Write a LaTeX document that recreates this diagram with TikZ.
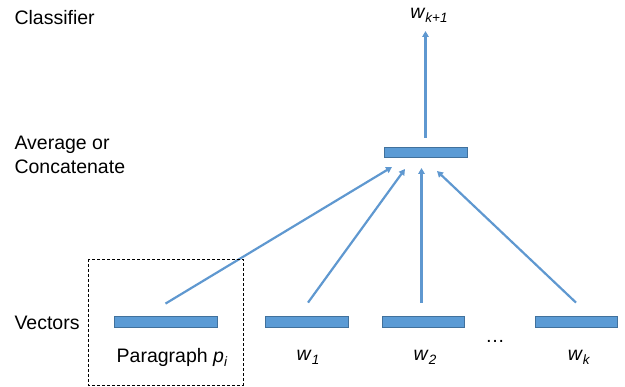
\documentclass[tikz,border=0pt]{standalone}
\usepackage{fontspec}
\setmainfont{Liberation Sans}
\usetikzlibrary{arrows.meta}
\definecolor{barfill}{RGB}{91,155,213}
\definecolor{bardraw}{RGB}{65,113,156}
\definecolor{arrblue}{RGB}{95,152,208}
\newcommand{\wsub}[2]{\textit{#1}\raisebox{-4pt}{\fontsize{13.5}{13.5}\selectfont\textit{#2}}}

\begin{document}
\begin{tikzpicture}[x=1pt,y=-1pt,
  every node/.style={font=\fontsize{19.5}{24}\selectfont},
  bar/.style={draw=bardraw,fill=barfill,line width=0.8pt,inner sep=0pt,
    minimum width=103pt,minimum height=11pt},
  arr/.style={arrblue,line width=2.2pt,-{Triangle[length=6pt,width=6.5pt]}}]
  \useasboundingbox (0,0) rectangle (625,387);
        \def\by{321.5};
        \def\ly{357};
  %row labels
  \node[anchor=west] (lcls) at (11,18) {Classifier};
  \node[anchor=west,align=left] (lavg) at (11,155) {Average or\\Concatenate};
  \node[anchor=west] (lvec) at (11,323) {Vectors};
  %bars
  \node[bar] (par) at (165.5,\by) {};
  \node[bar,minimum width=83pt] (wone) at (306.5,\by) {};
  \node[bar,minimum width=82pt] (wtwo) at (423,\by) {};
  \node[bar,minimum width=82pt] (wk) at (576,\by) {};
  \node[bar,minimum width=83pt,minimum height=10pt] (avg) at (425.5,152) {};
  %labels under bars
  \node (tpar) at (172,\ly) {Paragraph \wsub{p}{i}};
  \node (tone) at (308,\ly) {\wsub{w}{1}};
  \node (ttwo) at (425,\ly) {\wsub{w}{2}};
  \node (tdots) at (495,341) {\dots};
  \node (tk) at (579,\ly) {\wsub{w}{k}};
  \node (tout) at (429,15) {\wsub{w}{k+1}};
  %arrow ends under the average bar
  \coordinate (e0) at (392,167);
  \coordinate (e1) at (405,169);
  \coordinate (e2) at (421.5,168);
  \coordinate (e3) at (437,171);
  \coordinate (top) at (425.5,31);
  \draw[arr] ([yshift=12pt]par.north) -- (e0);
  \draw[arr] ([xshift=1.5pt,yshift=13pt]wone.north) -- (e1);
  \draw[arr] ([yshift=13pt]wtwo.north-|e2) -- (e2);
  \draw[arr] ([yshift=13pt]wk.north) -- (e3);
  \draw[arr] ([yshift=9pt]avg.north) -- (top);
  %dashed box round the paragraph
  \draw[black,line width=0.8pt,dash pattern=on 3pt off 2pt] (88,259) rectangle (243,385);
\end{tikzpicture}
\end{document}
